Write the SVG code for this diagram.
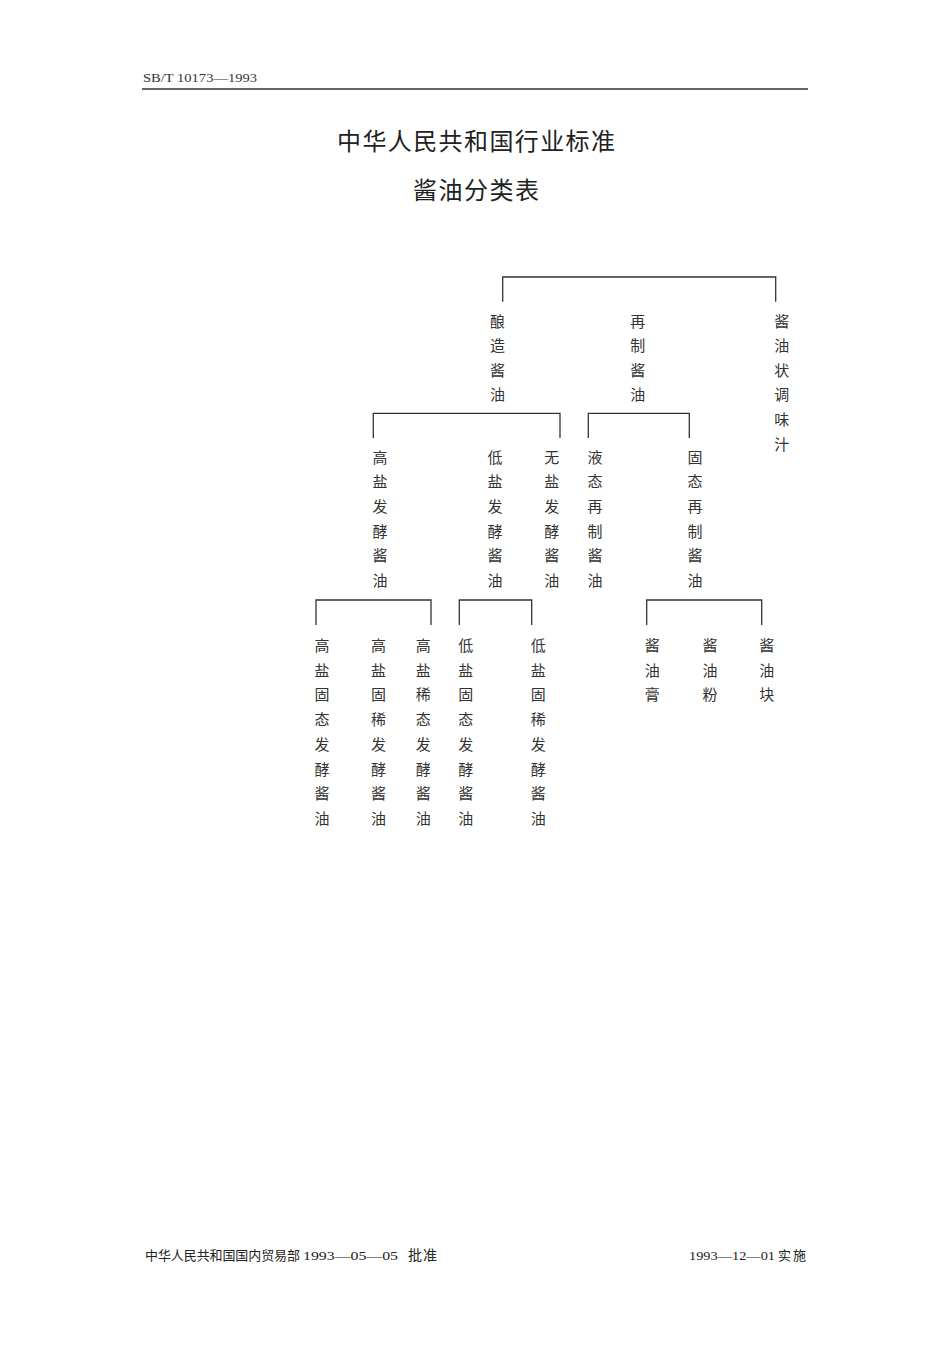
<svg xmlns="http://www.w3.org/2000/svg" width="950" height="1345" viewBox="0 0 950 1345">
<style>
.bg{fill:#ffffff}
.hdr{font-family:"Liberation Serif","Noto Sans CJK SC",serif;font-size:12px;fill:#333}
.title{font-family:"Noto Sans CJK SC",sans-serif;font-size:24px;fill:#222}
.foot{font-family:"Noto Sans CJK SC",sans-serif;font-size:13px;fill:#222}
.foot2{font-family:"Noto Sans CJK SC",sans-serif;font-size:14px;fill:#222}
.footn{font-family:"Liberation Serif",serif;font-size:13px;fill:#222}
.col{font-family:"Noto Sans CJK SC",sans-serif;font-size:15px;fill:#333;text-anchor:middle}
.br{fill:none;stroke:#333;stroke-width:1.3}
.rule{stroke:#333;stroke-width:1.6}
</style>
<rect class="bg" x="0" y="0" width="950" height="1345"/>
<g id="header">
<text class="hdr" x="143" y="81.7" textLength="114" lengthAdjust="spacingAndGlyphs">SB/T 10173—1993</text>
<line class="rule" x1="142" y1="89" x2="808" y2="89"/>
</g>
<g id="titles">
<text class="title" x="337" y="150" textLength="278" lengthAdjust="spacing">中华人民共和国行业标准</text>
<text class="title" x="413" y="199" textLength="126" lengthAdjust="spacing">酱油分类表</text>
</g>
<g id="connectors">
<polyline class="br" points="502.7,301.7 502.7,277 775.7,277 775.7,301.7"/>
<polyline class="br" points="373.3,438 373.3,413.3 560,413.3 560,438"/>
<polyline class="br" points="588.3,438 588.3,413.3 689.3,413.3 689.3,438"/>
<polyline class="br" points="316,625 316,600 431,600 431,625"/>
<polyline class="br" points="459.3,625 459.3,600 531.7,600 531.7,625"/>
<polyline class="br" points="646.7,625 646.7,600 761.7,600 761.7,625"/>
</g>
<g id="n-niangzao"><text class="col"><tspan x="497.5" y="326.5">酿</tspan><tspan x="497.5" y="351">造</tspan><tspan x="497.5" y="375.7">酱</tspan><tspan x="497.5" y="400.4">油</tspan></text></g>
<g id="n-zaizhi"><text class="col"><tspan x="637.7" y="326.5">再</tspan><tspan x="637.7" y="351">制</tspan><tspan x="637.7" y="375.7">酱</tspan><tspan x="637.7" y="400.4">油</tspan></text></g>
<g id="n-tiaoweizhi"><text class="col"><tspan x="781.7" y="326.5">酱</tspan><tspan x="781.7" y="351">油</tspan><tspan x="781.7" y="375.7">状</tspan><tspan x="781.7" y="400.4">调</tspan><tspan x="781.7" y="425">味</tspan><tspan x="781.7" y="449.7">汁</tspan></text></g>
<g id="n-gaoyan"><text class="col"><tspan x="380" y="462.7">高</tspan><tspan x="380" y="487.4">盐</tspan><tspan x="380" y="512">发</tspan><tspan x="380" y="536.7">酵</tspan><tspan x="380" y="561.4">酱</tspan><tspan x="380" y="586">油</tspan></text></g>
<g id="n-diyan"><text class="col"><tspan x="495" y="462.7">低</tspan><tspan x="495" y="487.4">盐</tspan><tspan x="495" y="512">发</tspan><tspan x="495" y="536.7">酵</tspan><tspan x="495" y="561.4">酱</tspan><tspan x="495" y="586">油</tspan></text></g>
<g id="n-wuyan"><text class="col"><tspan x="551.7" y="462.7">无</tspan><tspan x="551.7" y="487.4">盐</tspan><tspan x="551.7" y="512">发</tspan><tspan x="551.7" y="536.7">酵</tspan><tspan x="551.7" y="561.4">酱</tspan><tspan x="551.7" y="586">油</tspan></text></g>
<g id="n-yetai"><text class="col"><tspan x="595" y="462.7">液</tspan><tspan x="595" y="487.4">态</tspan><tspan x="595" y="512">再</tspan><tspan x="595" y="536.7">制</tspan><tspan x="595" y="561.4">酱</tspan><tspan x="595" y="586">油</tspan></text></g>
<g id="n-gutai"><text class="col"><tspan x="695" y="462.7">固</tspan><tspan x="695" y="487.4">态</tspan><tspan x="695" y="512">再</tspan><tspan x="695" y="536.7">制</tspan><tspan x="695" y="561.4">酱</tspan><tspan x="695" y="586">油</tspan></text></g>
<g id="n-gy-gutai"><text class="col"><tspan x="322" y="650.7">高</tspan><tspan x="322" y="675.5">盐</tspan><tspan x="322" y="700.2">固</tspan><tspan x="322" y="725">态</tspan><tspan x="322" y="749.7">发</tspan><tspan x="322" y="774.5">酵</tspan><tspan x="322" y="799.2">酱</tspan><tspan x="322" y="824">油</tspan></text></g>
<g id="n-gy-guxi"><text class="col"><tspan x="378.5" y="650.7">高</tspan><tspan x="378.5" y="675.5">盐</tspan><tspan x="378.5" y="700.2">固</tspan><tspan x="378.5" y="725">稀</tspan><tspan x="378.5" y="749.7">发</tspan><tspan x="378.5" y="774.5">酵</tspan><tspan x="378.5" y="799.2">酱</tspan><tspan x="378.5" y="824">油</tspan></text></g>
<g id="n-gy-xitai"><text class="col"><tspan x="423.3" y="650.7">高</tspan><tspan x="423.3" y="675.5">盐</tspan><tspan x="423.3" y="700.2">稀</tspan><tspan x="423.3" y="725">态</tspan><tspan x="423.3" y="749.7">发</tspan><tspan x="423.3" y="774.5">酵</tspan><tspan x="423.3" y="799.2">酱</tspan><tspan x="423.3" y="824">油</tspan></text></g>
<g id="n-dy-gutai"><text class="col"><tspan x="465.7" y="650.7">低</tspan><tspan x="465.7" y="675.5">盐</tspan><tspan x="465.7" y="700.2">固</tspan><tspan x="465.7" y="725">态</tspan><tspan x="465.7" y="749.7">发</tspan><tspan x="465.7" y="774.5">酵</tspan><tspan x="465.7" y="799.2">酱</tspan><tspan x="465.7" y="824">油</tspan></text></g>
<g id="n-dy-guxi"><text class="col"><tspan x="538.3" y="650.7">低</tspan><tspan x="538.3" y="675.5">盐</tspan><tspan x="538.3" y="700.2">固</tspan><tspan x="538.3" y="725">稀</tspan><tspan x="538.3" y="749.7">发</tspan><tspan x="538.3" y="774.5">酵</tspan><tspan x="538.3" y="799.2">酱</tspan><tspan x="538.3" y="824">油</tspan></text></g>
<g id="n-jiangyougao"><text class="col"><tspan x="652.3" y="650.7">酱</tspan><tspan x="652.3" y="675.5">油</tspan><tspan x="652.3" y="700.2">膏</tspan></text></g>
<g id="n-jiangyoufen"><text class="col"><tspan x="710" y="650.7">酱</tspan><tspan x="710" y="675.5">油</tspan><tspan x="710" y="700.2">粉</tspan></text></g>
<g id="n-jiangyoukuai"><text class="col"><tspan x="766.7" y="650.7">酱</tspan><tspan x="766.7" y="675.5">油</tspan><tspan x="766.7" y="700.2">块</tspan></text></g>
<g id="footer">
<text class="foot" x="145" y="1260" textLength="155" lengthAdjust="spacing">中华人民共和国国内贸易部</text>
<text class="footn" x="303" y="1260" textLength="95" lengthAdjust="spacingAndGlyphs">1993—05—05</text>
<text class="foot2" x="408" y="1260" textLength="29" lengthAdjust="spacing">批准</text>
<text class="footn" x="689" y="1260" textLength="86" lengthAdjust="spacingAndGlyphs">1993—12—01</text>
<text class="foot" x="778" y="1260" textLength="28" lengthAdjust="spacing">实施</text>
</g>
</svg>
